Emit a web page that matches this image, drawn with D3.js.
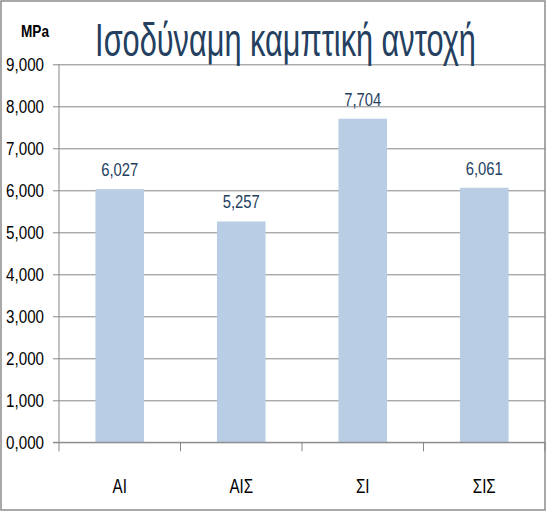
<!DOCTYPE html>
<html><head><meta charset="utf-8">
<script src="https://cdn.jsdelivr.net/npm/d3@7"></script>
<style>
html,body{margin:0;padding:0;background:#fff;}
text{font-family:"Liberation Sans",Arial,sans-serif;}
</style></head>
<body>
<svg id="chart" width="547" height="513"></svg>
<script>
const categories = ["ΑΙ", "ΑΙΣ", "ΣΙ", "ΣΙΣ"];
const values = [6.027, 5.257, 7.704, 6.061];
const yTicks = [0, 1, 2, 3, 4, 5, 6, 7, 8, 9];
const titleText = "Ισοδύναμη καμπτική αντοχή";
const unitText = "MPa";

const svg = d3.select("#chart");
const W = 547, H = 513;
const m = {left: 59, right: 2, top: 64.3, bottom: 70.7};

const loc = d3.formatLocale({decimal: ",", thousands: ".", grouping: [3], currency: ["", "€"]});
const fmt = loc.format(".3f");

// horizontally condense a text around its anchor point
function condense(sel, k) {
  sel.each(function() {
    const t = d3.select(this);
    const ax = +t.attr("x") || 0;
    t.attr("transform", `translate(${ax * (1 - k)},0) scale(${k},1)`);
  });
}

// frame
svg.append("rect").attr("x", 1).attr("y", 1).attr("width", 544).attr("height", 509)
  .attr("fill", "#fff").attr("stroke", "#8c8c8c").attr("stroke-width", 1.5);

const x = d3.scaleBand().domain(categories).range([m.left, W - m.right]).paddingInner(0.6).paddingOuter(0.3);
const xb = d3.scaleBand().domain(categories).range([m.left, W - m.right]);
const y = d3.scaleLinear().domain([0, 9]).range([H - m.bottom, m.top]);

// gridlines + y axis ticks
const yAxis = d3.axisLeft(y).tickValues(yTicks).tickSize(-(W - m.right - m.left)).tickSizeOuter(0).tickFormat(fmt);
const gy = svg.append("g").attr("transform", `translate(${m.left},0)`).call(yAxis);
gy.select(".domain").remove();
gy.selectAll(".tick line").attr("stroke", "#868686").attr("stroke-width", 1).attr("x1", -6);
gy.selectAll(".tick text").attr("fill", "#000").attr("font-size", 18.5).attr("x", -15).attr("dy", "0.36em")
  .attr("font-family", "'Liberation Sans',Arial,sans-serif");
condense(gy.selectAll(".tick text"), 0.82);

// y axis line
svg.append("line").attr("x1", m.left).attr("x2", m.left).attr("y1", y(9)).attr("y2", y(0))
  .attr("stroke", "#868686").attr("stroke-width", 1);

// bars
svg.append("g").selectAll("rect").data(values).join("rect")
  .attr("x", (d, i) => x(categories[i]))
  .attr("width", x.bandwidth())
  .attr("y", d => y(d))
  .attr("height", d => y(0) - y(d))
  .attr("fill", "#B9CDE5");

// x axis
const xAxis = d3.axisBottom(xb).tickSize(0).tickPadding(0);
const gx = svg.append("g").attr("transform", `translate(0,${y(0)})`).call(xAxis);
gx.select(".domain").remove();
gx.selectAll(".tick text").attr("fill", "#000").attr("font-size", 20.5).attr("y", 51).attr("dy", "0")
  .attr("font-family", "'Liberation Sans',Arial,sans-serif");
condense(gx.selectAll(".tick text"), 0.74);
svg.append("line").attr("x1", m.left - 6).attr("x2", W - m.right).attr("y1", y(0)).attr("y2", y(0))
  .attr("stroke", "#868686");
// category boundary tick marks
const bounds = categories.map(c => xb(c)).concat([W - m.right]);
svg.append("g").selectAll("line").data(bounds).join("line")
  .attr("x1", d => d).attr("x2", d => d).attr("y1", y(0)).attr("y2", y(0) + 9)
  .attr("stroke", "#868686");

// value labels
const vl = svg.append("g").selectAll("text").data(values).join("text")
  .attr("x", (d, i) => x(categories[i]) + x.bandwidth() / 2)
  .attr("y", d => y(d) - 13)
  .attr("text-anchor", "middle")
  .attr("font-size", 18.5)
  .attr("fill", "#243f60")
  .text(d => fmt(d));
condense(vl, 0.8);

// title
const tt = svg.append("text").attr("x", 285.5).attr("y", 56).attr("text-anchor", "middle")
  .attr("font-size", 47).attr("fill", "#243f60")
  .text(titleText);
const tw = tt.node().getComputedTextLength();
condense(tt, 381 / tw);

// unit
const ut = svg.append("text").attr("x", 35).attr("y", 37).attr("text-anchor", "middle")
  .attr("font-size", 16).attr("font-weight", "bold").attr("fill", "#000")
  .text(unitText);
condense(ut, 0.85);
</script>
</body></html>
